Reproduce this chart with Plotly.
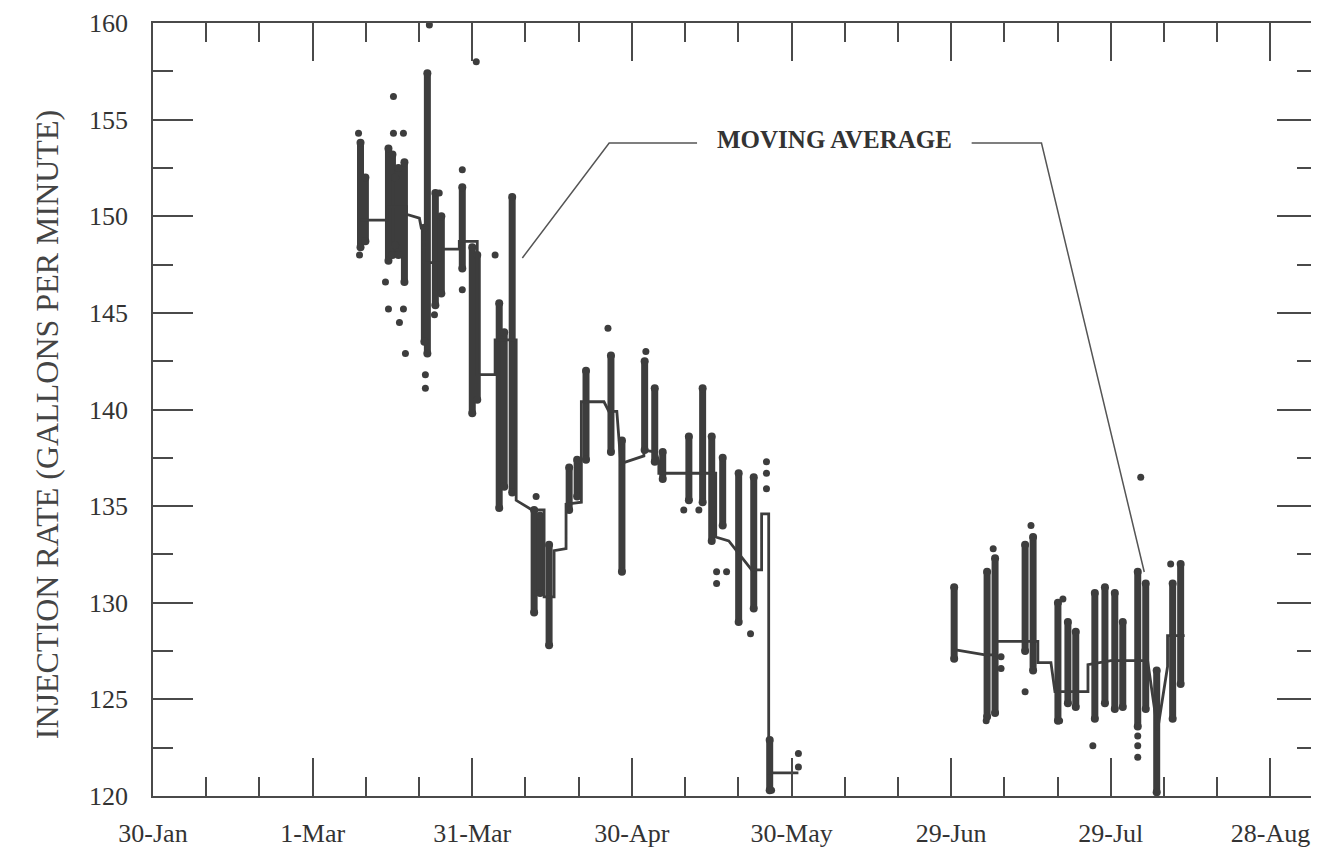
import plotly.graph_objects as go

# ---------------- data ----------------
# vertical streaks of dense readings: time, low, high (gal/min)
streak_t = [
    "1993-03-10 00:00", "1993-03-10 22:00", "1993-03-15 06:00", "1993-03-16 00:00",
    "1993-03-16 12:00", "1993-03-17 03:00", "1993-03-18 06:00", "1993-03-22 00:00",
    "1993-03-22 13:30", "1993-03-24 01:30", "1993-03-25 04:30", "1993-03-29 03:00",
    "1993-03-31 00:00", "1993-03-31 22:30", "1993-04-05 01:30", "1993-04-06 00:00",
    "1993-04-07 12:00", "1993-04-11 15:00", "1993-04-12 18:00", "1993-04-14 10:30",
    "1993-04-18 05:00", "1993-04-19 17:00", "1993-04-21 09:00", "1993-04-26 01:30",
    "1993-04-28 03:00", "1993-05-02 09:30", "1993-05-04 07:00", "1993-05-05 19:00",
    "1993-05-10 17:00", "1993-05-13 07:00", "1993-05-15 00:00", "1993-05-17 01:30",
    "1993-05-20 01:30", "1993-05-22 21:30", "1993-05-25 21:30",
    "1993-06-29 13:30", "1993-07-05 18:00", "1993-07-07 06:00", "1993-07-12 21:30",
    "1993-07-14 09:30", "1993-07-19 01:30", "1993-07-20 22:30", "1993-07-22 10:00",
    "1993-07-26 00:00", "1993-07-27 21:30", "1993-07-29 18:00", "1993-07-31 06:00",
    "1993-08-03 01:30", "1993-08-04 13:30", "1993-08-06 15:00", "1993-08-09 15:00",
    "1993-08-11 03:00",
]
streak_lo = [
    148.4, 148.7, 147.7, 148.0,
    148.5, 148.0, 146.6, 143.5,
    142.9, 145.4, 146.0, 147.3,
    139.8, 140.5, 134.9, 136.0,
    135.7, 129.5, 130.5, 127.8,
    134.8, 135.5, 137.4, 137.8,
    131.6, 137.9, 137.3, 136.4,
    135.3, 135.2, 133.2, 134.0,
    129.0, 129.7, 120.3,
    127.1, 124.1, 124.3, 127.5,
    126.5, 123.9, 124.8, 124.6,
    124.0, 124.8, 124.5, 124.6,
    123.6, 124.5, 120.2, 124.0,
    125.8,
]
streak_hi = [
    153.8, 152.0, 153.5, 153.2,
    152.0, 152.5, 152.8, 149.4,
    157.4, 151.2, 150.0, 151.5,
    148.4, 148.0, 145.5, 144.0,
    151.0, 134.8, 134.5, 133.0,
    137.0, 137.4, 142.0, 142.8,
    138.4, 142.5, 141.1, 137.8,
    138.6, 141.1, 138.6, 137.5,
    136.7, 136.5, 122.9,
    130.8, 131.6, 132.3, 133.0,
    133.4, 130.0, 129.0, 128.5,
    130.5, 130.8, 130.5, 129.0,
    131.6, 131.0, 126.5, 131.0,
    132.0,
]

# isolated readings
dot_t = [
    "1993-03-09 15:00", "1993-03-09 19:30", "1993-03-14 16:30", "1993-03-15 06:00",
    "1993-03-16 04:30", "1993-03-16 04:30", "1993-03-18 01:30", "1993-03-18 01:30",
    "1993-03-17 07:30", "1993-03-18 10:30", "1993-03-22 22:30", "1993-03-22 04:30",
    "1993-03-22 04:30", "1993-03-24 19:00", "1993-03-23 21:30", "1993-03-29 03:00",
    "1993-03-29 03:00", "1993-03-31 18:00", "1993-04-04 07:00", "1993-04-12 00:00",
    "1993-04-25 12:00", "1993-05-02 15:00", "1993-05-12 14:00", "1993-05-09 18:00",
    "1993-05-15 22:00", "1993-05-15 22:00", "1993-05-17 19:00", "1993-05-22 07:00",
    "1993-05-25 07:00", "1993-05-25 07:00", "1993-05-25 07:00", "1993-05-31 07:00",
    "1993-05-31 07:00", "1993-05-26 06:00",
    "1993-07-06 21:30", "1993-07-05 14:00", "1993-07-08 09:00", "1993-07-08 09:00",
    "1993-07-14 00:00", "1993-07-12 21:30", "1993-07-19 09:00", "1993-07-20 00:00",
    "1993-07-25 15:00", "1993-08-03 01:30", "1993-08-03 01:30", "1993-08-03 01:30",
    "1993-08-03 15:00", "1993-08-09 06:00",
]
dot_v = [
    154.3, 148.0, 146.6, 145.2,
    156.2, 154.3, 154.3, 145.2,
    144.5, 142.9, 159.9, 141.8,
    141.1, 151.2, 144.9, 152.4,
    146.2, 158.0, 148.0, 135.5,
    144.2, 143.0, 134.8, 134.8,
    131.6, 131.0, 131.6, 128.4,
    137.3, 136.7, 135.9, 122.2,
    121.5, 120.3,
    132.8, 123.9, 127.2, 126.6,
    134.0, 125.4, 123.9, 130.2,
    122.6, 123.1, 122.6, 122.0,
    136.5, 132.0,
]

# moving average (step line), None = data gap
ma_t = [
    "1993-03-10 00:00", "1993-03-15 01:30", "1993-03-15 01:30", "1993-03-18 15:00",
    "1993-03-18 15:00", "1993-03-21 01:30", "1993-03-21 10:00", "1993-03-22 00:00",
    "1993-03-22 00:00", "1993-03-25 09:30", "1993-03-25 09:30", "1993-03-28 13:30",
    "1993-03-28 13:30", "1993-03-31 22:30", "1993-03-31 22:30", "1993-04-04 07:00",
    "1993-04-04 07:00", "1993-04-08 06:00", "1993-04-08 06:00", "1993-04-11 06:00",
    "1993-04-13 12:00", "1993-04-13 12:00", "1993-04-15 09:00", "1993-04-15 09:00",
    "1993-04-17 15:00", "1993-04-17 15:00", "1993-04-20 12:00", "1993-04-20 12:00",
    "1993-04-24 18:00", "1993-04-25 16:00", "1993-04-27 04:00", "1993-04-27 22:00",
    "1993-05-02 06:00", "1993-05-02 06:00", "1993-05-04 12:00", "1993-05-05 01:30",
    "1993-05-05 01:30", "1993-05-15 18:00", "1993-05-15 18:00", "1993-05-18 05:00",
    "1993-05-22 12:00", "1993-05-24 09:00", "1993-05-24 09:00", "1993-05-25 17:00",
    "1993-05-25 17:00", "1993-05-31 07:00", None,
    "1993-06-29 00:00", "1993-07-05 09:00", "1993-07-07 12:00", "1993-07-07 12:00",
    "1993-07-15 07:00", "1993-07-15 07:00", "1993-07-17 18:00", "1993-07-18 12:00",
    "1993-07-24 17:00", "1993-07-24 17:00", "1993-07-29 00:00", "1993-08-04 22:00",
    "1993-08-06 19:00", "1993-08-08 16:00", "1993-08-08 16:00", "1993-08-11 21:00",
]
ma_v = [
    149.8, 149.8, 150.5, 150.5,
    150.1, 149.9, 149.4, 149.4,
    147.6, 147.6, 148.3, 148.3,
    148.7, 148.7, 141.8, 141.8,
    143.6, 143.6, 135.3, 134.8,
    134.8, 130.3, 130.3, 132.7,
    132.8, 135.1, 135.2, 140.4,
    140.4, 139.9, 139.9, 137.2,
    137.6, 137.9, 137.8, 137.3,
    136.7, 136.7, 133.4, 133.2,
    131.7, 131.7, 134.6, 134.6,
    121.2, 121.2, None,
    127.6, 127.3, 127.3, 128.0,
    128.0, 126.9, 126.9, 125.4,
    125.4, 126.8, 127.0, 127.0,
    123.4, 126.7, 128.3, 128.3,
]

x_tick0 = "1993-01-30"
x_range = ["1993-01-30", "1993-09-05 18:00"]
y_range = [120, 160]

ink = "#3d3d3d"
axis_col = "#4a4a4a"
serif = "Liberation Serif, Times New Roman, serif"

# ---------------- figure ----------------
sx, sy = [], []
for t, lo, hi in zip(streak_t, streak_lo, streak_hi):
    sx += [t, t, None]
    sy += [lo, hi, None]

fig = go.Figure()
fig.add_trace(go.Scatter(
    x=sx, y=sy, mode="lines+markers",
    line=dict(color=ink, width=7),
    marker=dict(color=ink, size=8),
    hoverinfo="skip", showlegend=False,
))
fig.add_trace(go.Scatter(
    x=dot_t, y=dot_v, mode="markers",
    marker=dict(color=ink, size=7),
    showlegend=False,
))
fig.add_trace(go.Scatter(
    x=ma_t, y=ma_v, mode="lines",
    line=dict(color=ink, width=2.8),
    connectgaps=False, showlegend=False,
))

day_ms = 86400000
fig.update_xaxes(
    type="date", range=x_range,
    tick0=x_tick0, dtick=30 * day_ms, tickformat="%-d-%b",
    ticks="inside", ticklen=38, tickwidth=1.5, tickcolor=axis_col,
    minor=dict(tick0=x_tick0, dtick=10 * day_ms, ticks="inside",
               ticklen=19, tickwidth=1.5, tickcolor=axis_col, showgrid=False),
    showline=True, linecolor=axis_col, linewidth=1.5, mirror="ticks",
    showgrid=False, zeroline=False,
    tickfont=dict(family=serif, size=26, color="#333"),
    ticklabelstandoff=13,
)
fig.update_yaxes(
    range=y_range, dtick=5, tick0=120,
    ticks="inside", ticklen=40, tickwidth=1.5, tickcolor=axis_col,
    minor=dict(dtick=2.5, ticks="inside", ticklen=20, tickwidth=1.5,
               tickcolor=axis_col, showgrid=False),
    showline=True, linecolor=axis_col, linewidth=1.5, mirror="ticks",
    showgrid=False, zeroline=False,
    tickfont=dict(family=serif, size=26, color="#333"),
    ticklabelstandoff=18,
)

# the page body adds an 8px margin, so the figure is sized/placed to compensate
OFF = 8
W, H = 1319 - OFF, 852 - OFF
L, R, T = 153 - OFF, 0, 23 - OFF
B = H - (796 - OFF)
pw, ph = W - L - R, H - T - B


def px(x):
    return (x - OFF - L) / pw


def py(y):
    return (H - B - (y - OFF)) / ph


fig.add_annotation(
    x=px(47), y=py(425), xref="paper", yref="paper",
    text="INJECTION RATE (GALLONS PER MINUTE)", textangle=-90,
    showarrow=False, font=dict(family=serif, size=32, color="#444"),
    xanchor="center", yanchor="middle",
)
fig.add_annotation(
    x=px(836), y=py(139), xref="paper", yref="paper",
    text="<b>MOVING AVERAGE</b>", showarrow=False,
    font=dict(family=serif, size=25, color="#333"),
    xanchor="center", yanchor="middle",
)
for pts in ([(698, 143), (610, 143), (523, 258)],
            [(973, 143), (1043, 143), (1146, 572)]):
    path = "M " + " L ".join(f"{px(a):.4f},{py(b):.4f}" for a, b in pts)
    fig.add_shape(type="path", path=path, xref="paper", yref="paper",
                  line=dict(color="#555", width=1.5))

fig.update_layout(
    width=W, height=H,
    margin=dict(l=L, r=R, t=T, b=B, pad=0),
    paper_bgcolor="white", plot_bgcolor="white",
    showlegend=False,
)

fig.write_html("out.html")
